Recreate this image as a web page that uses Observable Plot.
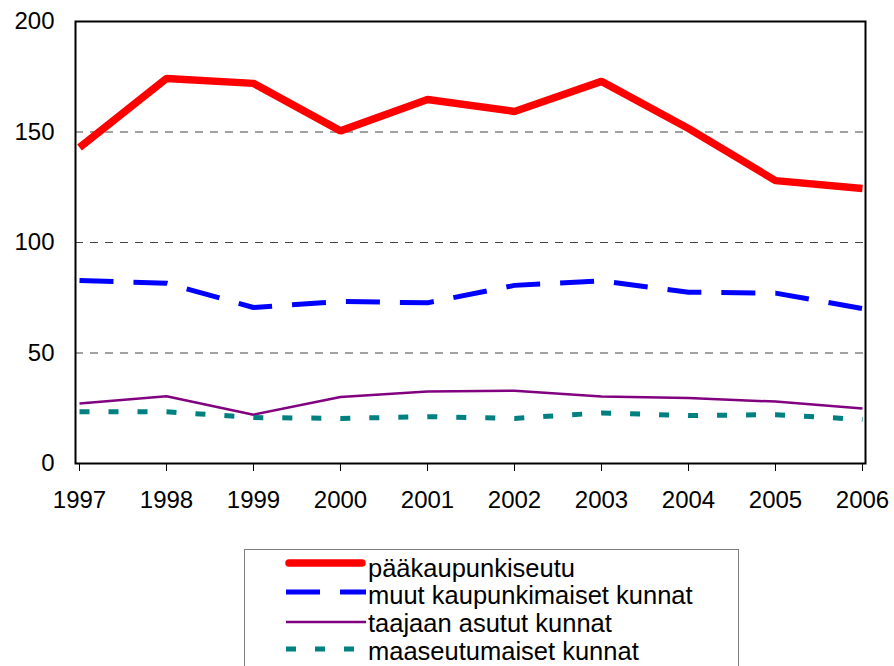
<!DOCTYPE html>
<html>
<head>
<meta charset="utf-8">
<script src="https://cdn.jsdelivr.net/npm/d3@7"></script>
<script src="https://cdn.jsdelivr.net/npm/@observablehq/plot@0.6"></script>
<style>
  body { margin: 0; background: #fff; font-family: "Liberation Sans", Arial, sans-serif; }
  #chart { width: 894px; }
  #legend {
    position: absolute; left: 244px; top: 549px; width: 495px; height: 140px;
    border: 1px solid #7f7f7f; box-sizing: border-box; background: #fff;
  }
  .sw { position: absolute; left: 40px; }
  .lt { position: absolute; left: 123px; font-size: 25.5px; line-height: 25px; color: #000; white-space: nowrap; }
</style>
</head>
<body>
<div id="chart"></div>
<div id="legend"></div>
<script>
const years = ["1997","1998","1999","2000","2001","2002","2003","2004","2005","2006"];
const seriesNames = ["pääkaupunkiseutu","muut kaupunkimaiset kunnat","taajaan asutut kunnat","maaseutumaiset kunnat"];
const paakaupunkiseutu = [143, 174.2, 172, 150.5, 164.7, 159.3, 172.9, 151.6, 128, 124.4];
const muutKaupunkimaiset = [82.8, 81.6, 70.6, 73.3, 72.7, 80.6, 82.6, 77.5, 77.1, 70.1];
const taajaanAsutut = [27.2, 30.4, 22.1, 30.1, 32.6, 32.9, 30.3, 29.6, 28.0, 24.9];
const maaseutumaiset = [23.4, 23.4, 20.8, 20.4, 21.2, 20.4, 22.9, 21.7, 22.1, 19.9];
const yTicks = [0, 50, 100, 150, 200];
const gridValues = [50, 100, 150];

const styles = [
  {color: "#FF0000", width: 7.5, dash: null},
  {color: "#0000FF", width: 5, dash: "34,20"},
  {color: "#800080", width: 2.5, dash: null},
  {color: "#008080", width: 5, dash: "10,19"}
];
const allValues = [paakaupunkiseutu, muutKaupunkimaiset, taajaanAsutut, maaseutumaiset];
const tables = allValues.map((vals, s) => years.map((y, i) => ({year: y, value: vals[i], series: seriesNames[s]})));

const chart = Plot.plot({
  width: 894,
  height: 530,
  marginLeft: 75,
  marginRight: 29,
  marginTop: 21,
  marginBottom: 67,
  style: {fontFamily: "'Liberation Sans', Arial, sans-serif", fontSize: "24px", color: "#000", background: "#fff"},
  x: {type: "point", domain: years, padding: 0, label: null},
  y: {domain: [0, 200], label: null},
  marks: [
    Plot.ruleY(gridValues, {stroke: "#444", strokeWidth: 1, strokeDasharray: "8,7"}),
    ...tables.map((t, s) => Plot.line(t, {
      x: "year", y: "value",
      stroke: styles[s].color, strokeWidth: styles[s].width,
      strokeDasharray: styles[s].dash, strokeLinejoin: "miter", strokeLinecap: "butt"
    })),
    Plot.axisX({tickSize: 8, tickPadding: 19, stroke: "#000", strokeWidth: 1, fontSize: 24}),
    Plot.axisY({ticks: yTicks, tickSize: 0, tickPadding: 21, fontSize: 24}),
    Plot.frame({stroke: "#000", strokeWidth: 2})
  ]
});
document.getElementById("chart").appendChild(chart);

const legend = document.getElementById("legend");
const swatchCenters = [13, 42, 72, 99];
const textTops = [6, 33, 61, 89];
seriesNames.forEach((name, i) => {
  const st = styles[i];
  const sw = document.createElement("div");
  sw.className = "sw";
  sw.style.top = (swatchCenters[i] - 6) + "px";
  sw.innerHTML = `<svg width="82" height="12" style="display:block"><line x1="${i === 0 ? 4 : 1}" x2="${i === 0 ? 77 : 81}" y1="6" y2="6" stroke="${st.color}" stroke-width="${st.width}" ${st.dash ? `stroke-dasharray="${st.dash}"` : ""} stroke-linecap="${i === 0 ? "round" : "butt"}"/></svg>`;
  legend.appendChild(sw);
  const tx = document.createElement("div");
  tx.className = "lt";
  tx.style.top = textTops[i] + "px";
  tx.textContent = name;
  legend.appendChild(tx);
});
</script>
</body>
</html>
